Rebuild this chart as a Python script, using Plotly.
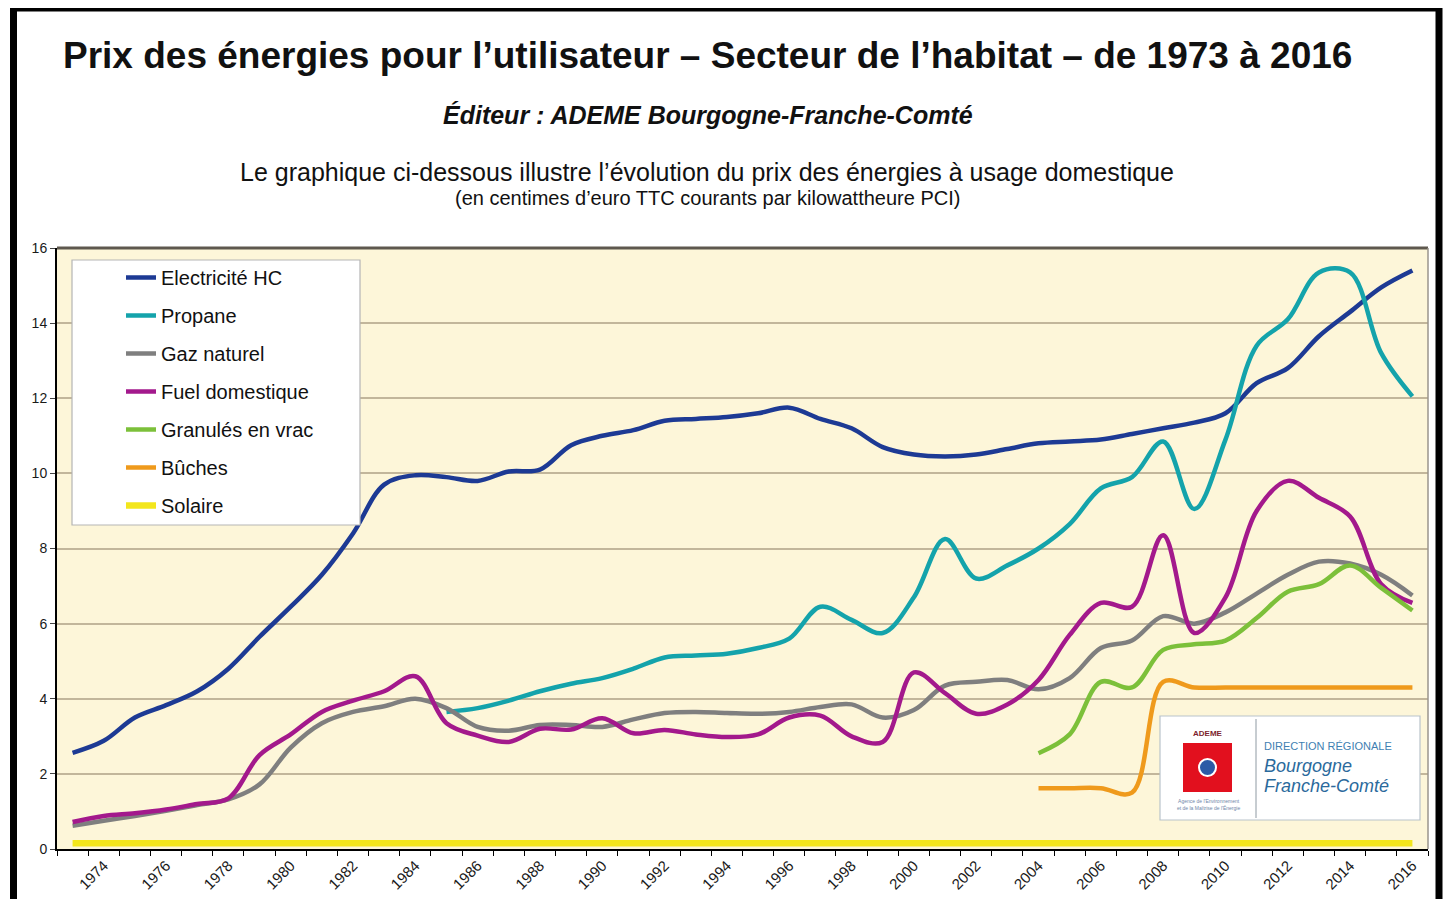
import plotly.graph_objects as go

# ---------------- data ----------------
years = list(range(1973, 2017))

electricite_hc = [2.56, 2.88, 3.5, 3.83, 4.2, 4.8, 5.65, 6.45, 7.3, 8.4,
                  9.7, 9.95, 9.9, 9.8, 10.05, 10.1, 10.75, 11.0, 11.15, 11.4,
                  11.45, 11.5, 11.6, 11.75, 11.45, 11.2, 10.7, 10.5, 10.45, 10.5,
                  10.65, 10.8, 10.85, 10.9, 11.05, 11.2, 11.35, 11.6, 12.4, 12.8,
                  13.65, 14.3, 14.95, 15.4]

propane_years = list(range(1985, 2017))
propane = [3.65, 3.75, 3.95, 4.2, 4.4, 4.55, 4.8, 5.1, 5.15, 5.2,
           5.35, 5.6, 6.45, 6.1, 5.75, 6.7, 8.25, 7.2, 7.55, 8.0,
           8.65, 9.6, 9.9, 10.85, 9.05, 10.9, 13.4, 14.1, 15.35, 15.35,
           13.2, 12.05]

gaz_naturel = [0.62, 0.75, 0.88, 1.02, 1.17, 1.32, 1.72, 2.7, 3.35, 3.65,
               3.8, 4.0, 3.75, 3.25, 3.15, 3.3, 3.3, 3.25, 3.45, 3.62,
               3.65, 3.62, 3.6, 3.65, 3.78, 3.85, 3.5, 3.7, 4.35, 4.45,
               4.5, 4.25, 4.55, 5.35, 5.55, 6.2, 6.0, 6.3, 6.8, 7.3,
               7.65, 7.6, 7.3, 6.75]

fuel_domestique = [0.72, 0.88, 0.95, 1.05, 1.2, 1.35, 2.5, 3.05, 3.65, 3.95,
                   4.2, 4.6, 3.35, 3.02, 2.85, 3.2, 3.18, 3.48, 3.08, 3.17,
                   3.05, 2.98, 3.05, 3.5, 3.55, 3.0, 2.85, 4.7, 4.15, 3.6,
                   3.85, 4.5, 5.7, 6.55, 6.45, 8.35, 5.75, 6.7, 9.0, 9.8,
                   9.35, 8.85, 7.05, 6.55]

granules_years = list(range(2004, 2017))
granules = [2.55, 3.05, 4.45, 4.3, 5.3, 5.45, 5.55, 6.15, 6.85, 7.05, 7.55, 6.95, 6.35]

buches_years = list(range(2004, 2017))
buches = [1.62, 1.62, 1.62, 1.5, 4.45, 4.3, 4.3, 4.3, 4.3, 4.3, 4.3, 4.3, 4.3]

solaire = [0.15] * len(years)

x_tick_years = list(range(1974, 2017, 2))
y_ticks = list(range(0, 17, 2))

series = [
    ("Electricité HC", years, electricite_hc, "#1d3a94", 4.5),
    ("Propane", propane_years, propane, "#14a3ab", 4.5),
    ("Gaz naturel", years, gaz_naturel, "#7f7f7f", 4.5),
    ("Fuel domestique", years, fuel_domestique, "#a3198c", 4.5),
    ("Granulés en vrac", granules_years, granules, "#7cc03a", 4.5),
    ("Bûches", buches_years, buches, "#ef9a1c", 4.5),
    ("Solaire", years, solaire, "#f3e61c", 6.5),
]

# ---------------- geometry helpers (page pixels -> paper) ----------------
W, H = 1435, 891
ML, MR, MT, MB = 49, 15, 240, 50
PW, PH = W - ML - MR, H - MT - MB


def px(x):
    return (x - 8 - ML) / PW


def py(y):
    return (H - MB - (y - 8)) / PH


FONT = "Liberation Sans, Arial, sans-serif"

fig = go.Figure()
for i, (name, xs, ys, color, width) in enumerate(series):
    fig.add_trace(go.Scatter(
        x=xs, y=ys, name=name, mode="lines",
        line=dict(color=color, width=width, shape="spline", smoothing=1.0),
        legendgroup=f"g{i}",
    ))

shapes = []
# outer black frame
shapes.append(dict(type="rect", xref="paper", yref="paper",
                   x0=px(13.5), x1=px(1439), y0=py(8), y1=py(960),
                   line=dict(color="black", width=7), fillcolor="rgba(0,0,0,0)",
                   layer="above"))
# plot border top / right
shapes.append(dict(type="line", xref="paper", yref="paper", x0=0, x1=1, y0=1, y1=1,
                   line=dict(color="#5e584e", width=3), layer="above"))
shapes.append(dict(type="line", xref="paper", yref="paper", x0=1, x1=1, y0=0, y1=1,
                   line=dict(color="#9a958c", width=1.5), layer="above"))
# legend box
shapes.append(dict(type="rect", xref="paper", yref="paper",
                   x0=px(72), x1=px(360), y0=py(525), y1=py(260),
                   line=dict(color="#b5b5b5", width=1.2), fillcolor="white", layer="above"))
# ADEME logo box
shapes.append(dict(type="rect", xref="paper", yref="paper",
                   x0=px(1160), x1=px(1420), y0=py(820), y1=py(716),
                   line=dict(color="#b9c3cb", width=1.2), fillcolor="white", layer="above"))
shapes.append(dict(type="line", xref="paper", yref="paper",
                   x0=px(1256), x1=px(1256), y0=py(818), y1=py(719),
                   line=dict(color="#8f9aa3", width=1), layer="above"))
shapes.append(dict(type="rect", xref="paper", yref="paper",
                   x0=px(1183), x1=px(1232), y0=py(792), y1=py(743),
                   line=dict(width=0), fillcolor="#e2101e", layer="above"))
shapes.append(dict(type="circle", xref="paper", yref="paper",
                   x0=px(1199), x1=px(1216), y0=py(776), y1=py(759),
                   line=dict(color="white", width=2), fillcolor="#2c5aa6", layer="above"))

annotations = [
    dict(text="<b>Prix des énergies pour l’utilisateur – Secteur de l’habitat – de 1973 à 2016</b>",
         x=px(707), y=py(55), xref="paper", yref="paper", showarrow=False,
         font=dict(family=FONT, size=37, color="#111111"), xanchor="center", yanchor="middle"),
    dict(text="<b><i>Éditeur : ADEME Bourgogne-Franche-Comté</i></b>",
         x=px(708), y=py(115), xref="paper", yref="paper", showarrow=False,
         font=dict(family=FONT, size=25, color="#111111"), xanchor="center", yanchor="middle"),
    dict(text="Le graphique ci-dessous illustre l’évolution du prix des énergies à usage domestique",
         x=px(707), y=py(172), xref="paper", yref="paper", showarrow=False,
         font=dict(family=FONT, size=25, color="#111111"), xanchor="center", yanchor="middle"),
    dict(text="(en centimes d’euro TTC courants par kilowattheure PCI)",
         x=px(707), y=py(198), xref="paper", yref="paper", showarrow=False,
         font=dict(family=FONT, size=20, color="#111111"), xanchor="center", yanchor="middle"),
    # logo texts
    dict(text="<b>ADEME</b>", x=px(1208), y=py(733), xref="paper", yref="paper", showarrow=False,
         font=dict(family=FONT, size=8, color="#7d1f2e"), xanchor="center", yanchor="middle"),
    dict(text="Agence de l'Environnement<br>et de la Maîtrise de l'Énergie",
         x=px(1208), y=py(804), xref="paper", yref="paper", showarrow=False,
         font=dict(family=FONT, size=5, color="#6f86a8"), xanchor="center", yanchor="middle"),
    dict(text="DIRECTION RÉGIONALE", x=px(1262), y=py(746), xref="paper", yref="paper",
         showarrow=False, font=dict(family=FONT, size=11, color="#3f7fb2"),
         xanchor="left", yanchor="middle"),
    dict(text="Bourgogne", x=px(1262), y=py(766), xref="paper", yref="paper",
         showarrow=False, font=dict(family=FONT, size=18, color="#2b6a9c", style="italic"),
         xanchor="left", yanchor="middle"),
    dict(text="Franche-Comté", x=px(1262), y=py(786), xref="paper", yref="paper",
         showarrow=False, font=dict(family=FONT, size=18, color="#2b6a9c", style="italic"),
         xanchor="left", yanchor="middle"),
]

fig.update_layout(
    width=W, height=H,
    margin=dict(l=ML, r=MR, t=MT, b=MB, pad=0, autoexpand=False),
    paper_bgcolor="white",
    plot_bgcolor="#fdf6d9",
    font=dict(family=FONT, color="#222222"),
    showlegend=True,
    legend=dict(x=px(121), y=py(258), xanchor="left", yanchor="top",
                bgcolor="rgba(0,0,0,0)", borderwidth=0,
                font=dict(family=FONT, size=20, color="#111111"),
                tracegroupgap=9, itemwidth=30, traceorder="grouped"),
    shapes=shapes,
    annotations=annotations,
    xaxis=dict(range=[1972.5, 2016.5], tickmode="array", tickvals=x_tick_years,
               ticktext=[str(v) for v in x_tick_years], tickangle=-45,
               tickfont=dict(family=FONT, size=15, color="#1a1a1a"),
               ticks="", showgrid=False, zeroline=False, automargin=False,
               showline=True, linecolor="black", linewidth=2,
               minor=dict(tick0=1972.5, dtick=1, ticks="outside", ticklen=5,
                          tickcolor="black", tickwidth=1, showgrid=False)),
    yaxis=dict(range=[0, 16], tickmode="array", tickvals=y_ticks,
               tickfont=dict(family=FONT, size=14, color="#1a1a1a"),
               ticks="outside", ticklen=5, tickcolor="#444444", automargin=False,
               showgrid=True, gridcolor="#c2b69b", gridwidth=2, zeroline=False,
               showline=True, linecolor="black", linewidth=2),
)

fig.write_html("out.html")
